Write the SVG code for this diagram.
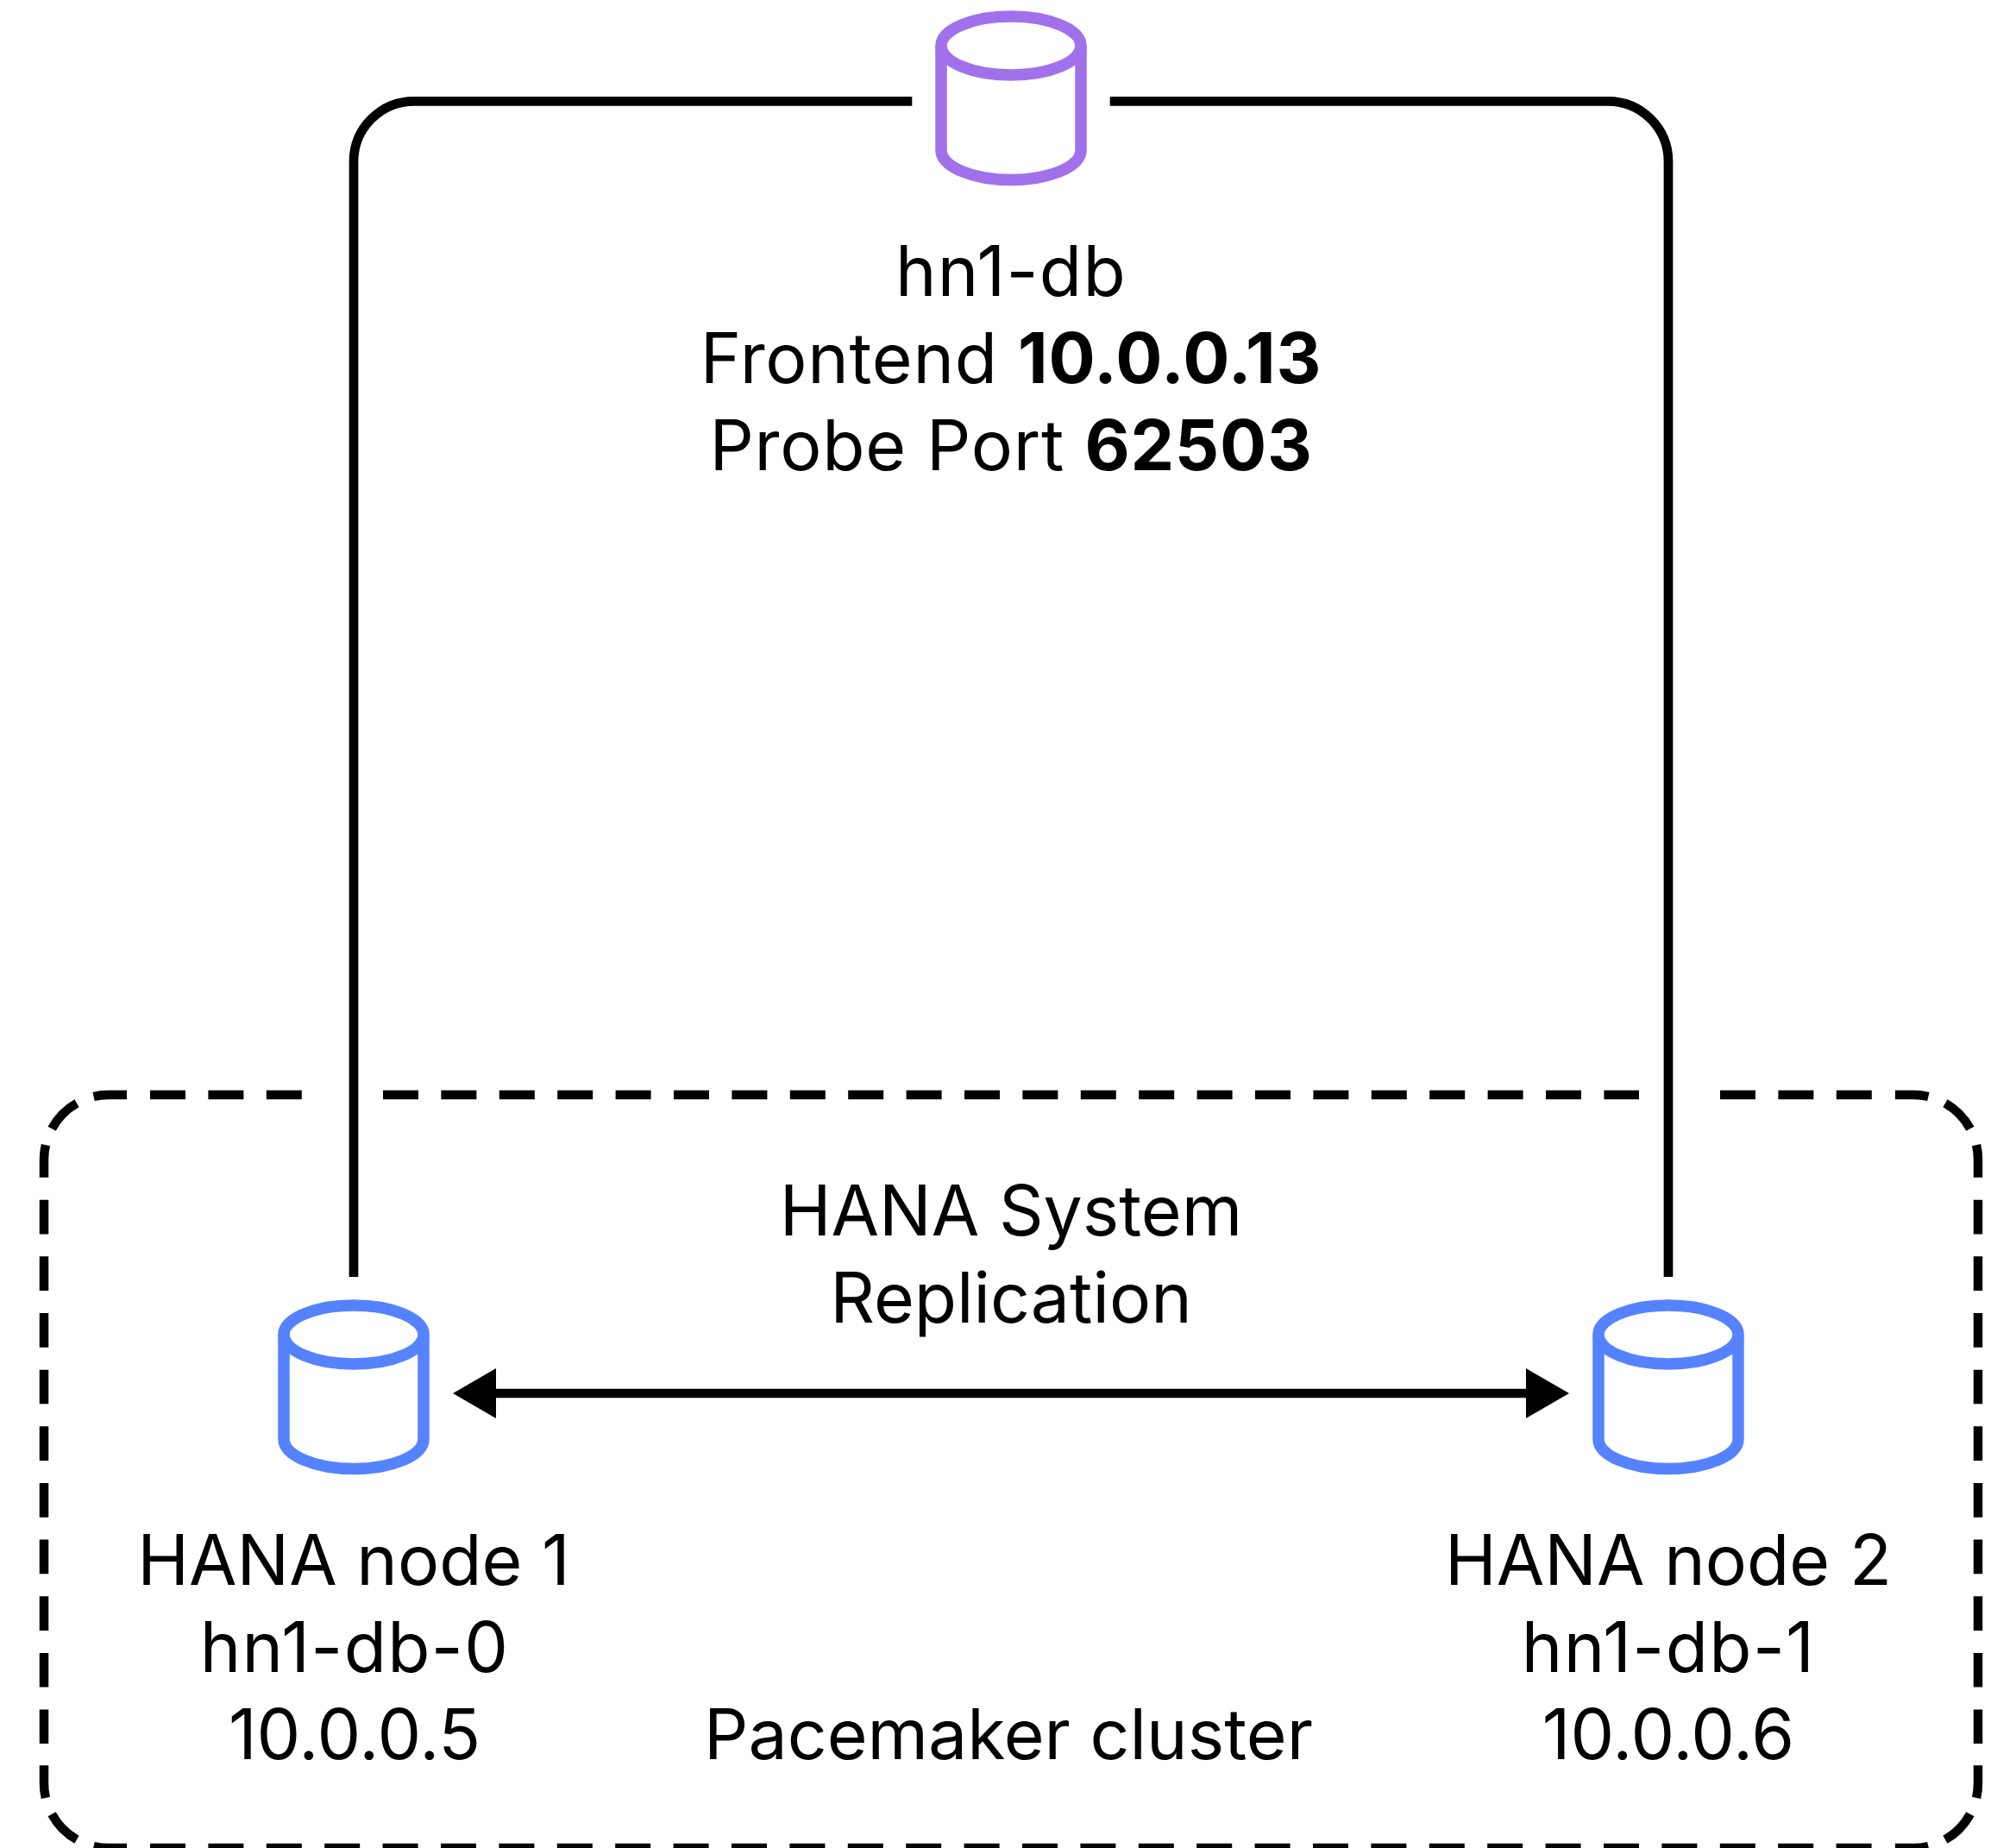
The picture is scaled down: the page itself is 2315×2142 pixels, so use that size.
<svg xmlns="http://www.w3.org/2000/svg" width="2315" height="2142" viewBox="0 0 2315 2142">
<defs>
<style>
text{font-family:"Inter","Noto Sans","Liberation Sans",sans-serif;font-size:80.5px;fill:#000;text-anchor:middle}
.b{font-weight:700}
.ls1{letter-spacing:1.3px}
.ls2{letter-spacing:.7px}
.wire{fill:none;stroke:#000;stroke-width:10.7}
.db{fill:none;stroke-width:13.5}
.purple{stroke:#a171ec}
.blue{stroke:#5583ff}
.edge{fill:none;stroke:#000;stroke-width:10.5}
.h{stroke-dasharray:41 26.4}
.v{stroke-dasharray:39.7 25.95}
</style>
<marker id="ah" markerUnits="userSpaceOnUse" markerWidth="52" markerHeight="60" refX="1" refY="30" orient="auto-start-reverse"><path d="M1 1L51 30L1 59Z" fill="#000"/></marker>
<g id="cyl"><ellipse cx="0" cy="0" rx="81" ry="34"/><path d="M-81 0V121C-81 140-45 155.5 0 155.5S81 140 81 121V0"/></g>
<path id="corner" d="M147 1269H126A75 75 0 0 0 108.6 1271M89 1278.8A75 75 0 0 0 60.1 1308.3M52.9 1327.1A75 75 0 0 0 51 1344V1364.7"/>
</defs>
<rect width="2315" height="2142" fill="#fff"/>
<g id="connectors">
<path class="wire" d="M1057.3 117.3H480A70 70 0 0 0 410 187.3V1480"/>
<path class="wire" d="M1286.7 117.3H1864A70 70 0 0 1 1934 187.3V1480"/>
<path class="wire" d="M575 1615H1769" marker-start="url(#ah)" marker-end="url(#ah)"/>
</g>
<g id="cluster">
<path class="edge h" d="M174 1269H350M444 1269H1900M1994 1269H2170M174 2142H2170"/>
<path class="edge v" d="M51 1390.7V2021M2293 1390.7V2021"/>
<use href="#corner" class="edge"/>
<use href="#corner" class="edge" transform="matrix(-1 0 0 1 2344 0)"/>
<use href="#corner" class="edge" transform="matrix(1 0 0 -1 0 3411)"/>
<use href="#corner" class="edge" transform="matrix(-1 0 0 -1 2344 3411)"/>
<text x="1169" y="2039">Pacemaker cluster</text>
</g>
<g id="lb"><use href="#cyl" class="db purple" transform="translate(1172 53)"/>
<text class="ls1" x="1172" y="343">hn1-db</text><text class="ls2" x="1172" y="444">Frontend <tspan class="b">10.0.0.13</tspan></text><text class="ls2" x="1172" y="545">Probe Port <tspan class="b">62503</tspan></text></g>
<g id="node1"><use href="#cyl" class="db blue" transform="translate(410 1547)"/>
<text x="410" y="1837">HANA node 1</text><text class="ls1" x="411" y="1938">hn1-db-0</text><text x="411" y="2039">10.0.0.5</text></g>
<g id="node2"><use href="#cyl" class="db blue" transform="translate(1934 1547)"/>
<text x="1934" y="1837">HANA node 2</text><text class="ls1" x="1934" y="1938">hn1-db-1</text><text x="1934" y="2039">10.0.0.6</text></g>
<g id="replication"><text x="1172" y="1432">HANA System</text><text x="1172" y="1533">Replication</text></g>
</svg>
